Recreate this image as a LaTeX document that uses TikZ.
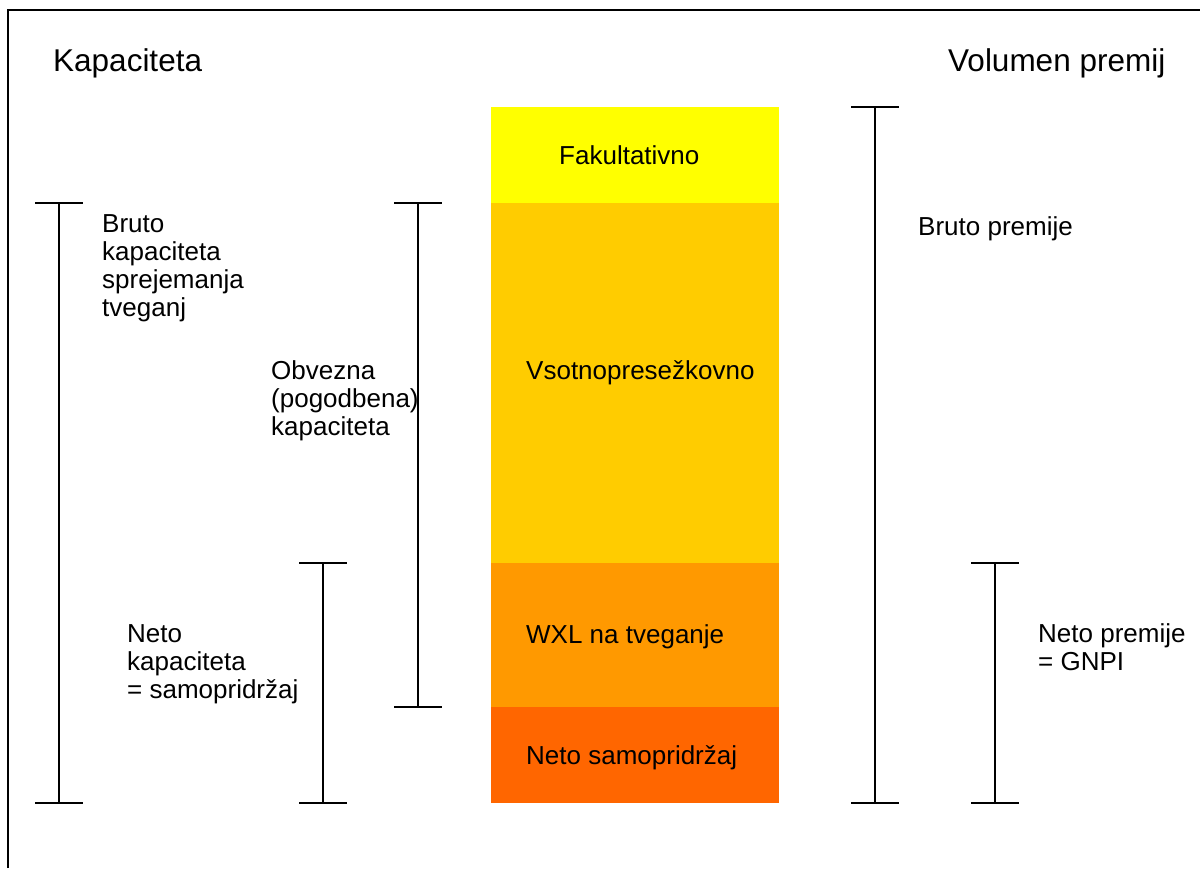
\documentclass[tikz,border=0pt]{standalone}
\usepackage{fontspec}
\setmainfont{Liberation Sans}
\definecolor{cFak}{HTML}{FFFF00}
\definecolor{cVso}{HTML}{FFCC00}
\definecolor{cWxl}{HTML}{FF9900}
\definecolor{cNet}{HTML}{FF6600}
\begin{document}
\begin{tikzpicture}[x=1pt,y=-1pt,
  lbl/.style={anchor=base west,inner sep=0pt,align=left,font=\fontsize{26}{27.8}\selectfont},
  head/.style={anchor=base west,inner sep=0pt,font=\fontsize{31.5}{34}\selectfont},
  bar/.style={line width=1.4pt,black},
  frame/.style={line width=1.3pt,black}]
\useasboundingbox (0,0) rectangle (1200,868);
% frame
\coordinate (fTL) at (8,10);
\coordinate (fTR) at (1200,10);
\coordinate (fBL) at (8,868);
\draw[frame] (fBL) -- (fTL) -- (fTR);
% headings
\node[head] (hKap) at (53,71) {Kapaciteta};
\node[head] (hVol) at (948,71) {Volumen premij};
% layers
\fill[cFak] (491,107) rectangle (779,203);
\fill[cVso] (491,203) rectangle (779,563);
\fill[cWxl] (491,563) rectangle (779,707);
\fill[cNet] (491,707) rectangle (779,803);
\node[lbl] (tFak) at (559,164) {Fakultativno};
\node[lbl] (tVso) at (526,379) {Vsotnopresežkovno};
\node[lbl] (tWxl) at (526,643) {WXL na tveganje};
\node[lbl] (tNet) at (526,764) {Neto samopridržaj};
% brackets
\newcommand\ibeam[4]{% x, top, bottom, name
  \coordinate (#4t) at (#1,#2);
  \coordinate (#4b) at (#1,#3);
  \draw[bar] ([xshift=-24pt]#4t) -- ([xshift=24pt]#4t);
  \draw[bar] ([xshift=-24pt]#4b) -- ([xshift=24pt]#4b);
  \draw[bar] (#4t) -- (#4b);}
\ibeam{59}{203}{803}{bA}
\ibeam{418}{203}{707}{bB}
\ibeam{323}{563}{803}{bC}
\ibeam{875}{107}{803}{bD}
\ibeam{995}{563}{803}{bE}
% labels (base anchor = baseline of last line)
\node[lbl] (lBruto) at (102,316) {Bruto\\kapaciteta\\sprejemanja\\tveganj};
\node[lbl] (lObv) at (271,435) {Obvezna\\(pogodbena)\\kapaciteta};
\node[lbl] (lNeto) at (127,698) {Neto\\kapaciteta\\= samopridržaj};
\node[lbl] (lBP) at (918,235) {Bruto premije};
\node[lbl] (lNP) at (1038,670) {Neto premije\\= GNPI};
\end{tikzpicture}
\end{document}
